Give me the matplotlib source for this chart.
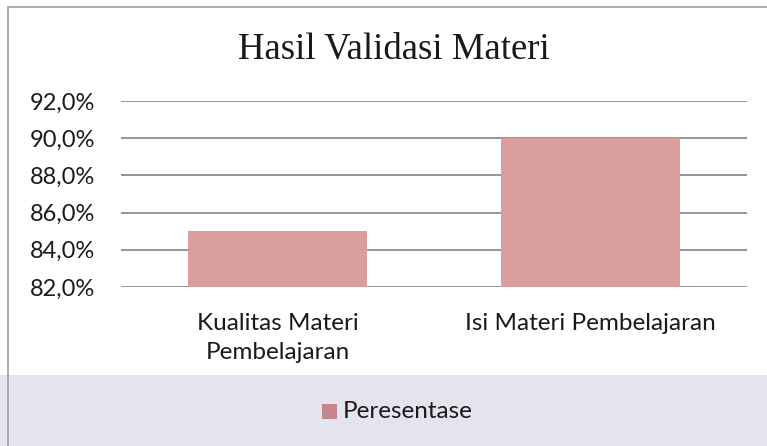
import numpy as np
import matplotlib.pyplot as plt
from matplotlib.patches import Rectangle
from matplotlib.ticker import FuncFormatter

categories = ["Kualitas Materi\nPembelajaran", "Isi Materi Pembelajaran"]
values = [85.0, 90.0]
series_name = "Peresentase"
yticks = [82, 84, 86, 88, 90, 92]

W, H = 767, 446
fig = plt.figure(figsize=(W / 100, H / 100), dpi=100)

# lavender band at bottom (page background)
fig.patches.append(Rectangle((0, 0), 1, 71 / H, transform=fig.transFigure,
                             facecolor="#e4e4ee", edgecolor="none", zorder=-2))
# chart border (left and top visible)
fig.patches.append(Rectangle((8 / W, -0.1), 1.2, 1 - 7 / H + 0.1, transform=fig.transFigure,
                             facecolor="none", edgecolor="#a0a0a0", linewidth=1.2, zorder=-1))

ax = fig.add_axes([121 / W, 1 - 287 / H, 626 / W, 186 / H])
ax.patch.set_alpha(0)
x = np.arange(len(categories))
ax.bar(x, [v - yticks[0] for v in values], bottom=yticks[0], width=0.57,
       color="#da9e9e", zorder=2)

ax.set_xlim(-0.5, len(categories) - 0.5)
ax.set_ylim(yticks[0], yticks[-1])
ax.set_yticks(yticks)
ax.yaxis.set_major_formatter(FuncFormatter(lambda v, p: f"{v:.1f}%".replace(".", ",")))
ax.grid(axis="y", color="#8c8c8c", linewidth=1.3, zorder=0)
ax.set_axisbelow(True)
for s in ax.spines.values():
    s.set_visible(False)
ax.tick_params(axis="y", length=0, labelsize=17, pad=18.5)
ax.set_xticks(x)
ax.set_xticklabels(categories, fontsize=17.5, linespacing=1.45, va="top")
ax.tick_params(axis="x", length=0, pad=19)
for lbl in ax.get_xticklabels() + ax.get_yticklabels():
    lbl.set_fontfamily("Lato")
    lbl.set_color("#1a1a1a")

fig.text(394 / W, 1 - 49 / H, "Hasil Validasi Materi", ha="center", va="center",
         fontsize=26.5, family="Liberation Serif", color="#1a1a1a")

# legend
fig.patches.append(Rectangle((322 / W, 1 - 419 / H), 15 / W, 15 / H, transform=fig.transFigure,
                             facecolor="#c4868c", edgecolor="none"))
fig.text(343 / W, 1 - 412 / H, series_name, ha="left", va="center", fontsize=17.5,
         family="Lato", color="#1a1a1a")

fig.savefig("out.png", dpi=100)
